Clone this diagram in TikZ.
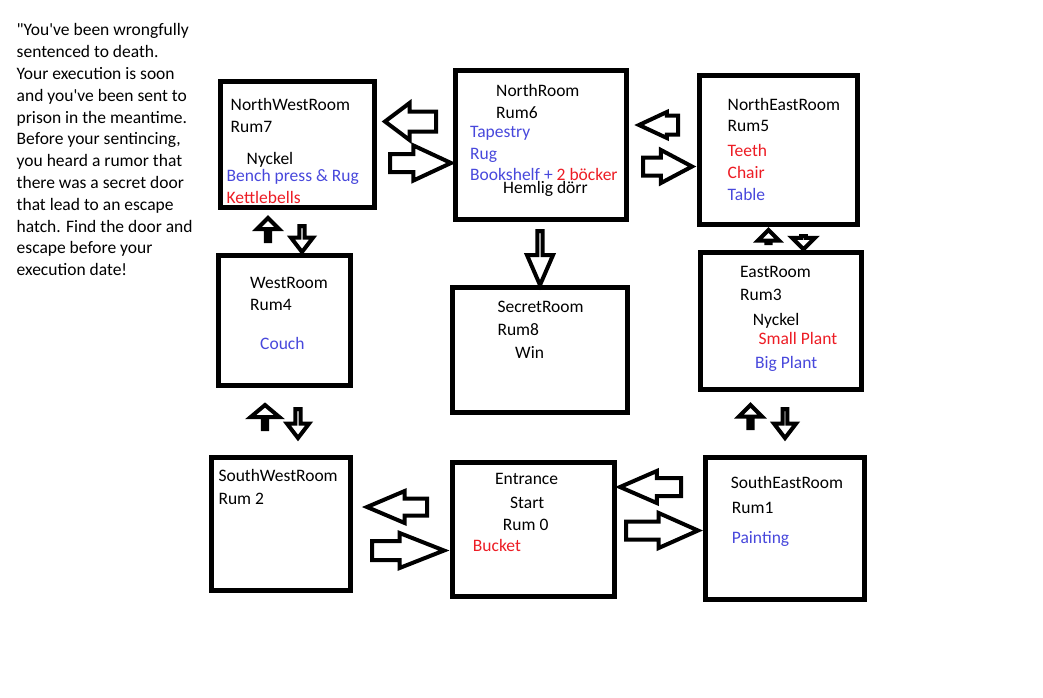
\documentclass[tikz,border=0pt]{standalone}
\usepackage{fontspec}
\setmainfont{Carlito}
\usetikzlibrary{shapes.arrows}

\definecolor{itemblue}{RGB}{72,72,220}
\definecolor{itemred}{RGB}{237,28,36}

\begin{document}
\begin{tikzpicture}[
  x=1pt,y=-1pt,
  every node/.style={font=\fontsize{17.5}{21.8}\selectfont},
  room/.style={draw,line width=5pt,inner sep=0pt},
  lbl/.style={anchor=base west,inner sep=0pt},
  blueitem/.style={lbl,text=itemblue},
  reditem/.style={lbl,text=itemred},
  blockarrow/.style n args={4}{single arrow,draw,line width=4pt,inner sep=0pt,
    inner ysep={#3/2},minimum height=#1,minimum width=#2,anchor=tail,
    single arrow head extend={(#2-#3)/2},single arrow tip angle=#4}
]
  \useasboundingbox[fill=white] (0,0) rectangle (1043,697);

  % story text
  \node[anchor=north west,inner sep=0pt,align=left] (story) at (16.5,23.5)
    {\textquotedbl You\textquotesingle ve been wrongfully\\ sentenced to death.\\
     Your execution is soon\\ and you\textquotesingle ve been sent to\\
     prison in the meantime.\\ Before your sentincing,\\
     you heard a rumor that\\ there was a secret door\\
     that lead to an escape\\ hatch. Find the door and\\
     escape before your\\ execution date!};

  % rooms
  \node[room,minimum width=154,minimum height=126] (nw) at (297.5,144.5) {};
  \node[room,minimum width=171,minimum height=149] (north) at (541,145) {};
  \node[room,minimum width=158,minimum height=149] (ne) at (778.5,150) {};
  \node[room,minimum width=132,minimum height=130] (west) at (284.5,320.5) {};
  \node[room,minimum width=175,minimum height=125] (secret) at (540,350) {};
  \node[room,minimum width=161,minimum height=137] (east) at (781,321) {};
  \node[room,minimum width=139,minimum height=133] (sw) at (281,524) {};
  \node[room,minimum width=162,minimum height=134] (entrance) at (533.5,529.5) {};
  \node[room,minimum width=159,minimum height=142] (se) at (785,528.5) {};

  % room texts
  \node[lbl] (nwName) at (230.5,110.7) {NorthWestRoom};
  \node[lbl] (nwRum) at (230.5,132.7) {Rum7};
  \node[lbl] (nwKey) at (246.5,164.3) {Nyckel};
  \node[blueitem] (nwBench) at (226.5,181.7) {Bench press \& Rug};
  \node[reditem] (nwKettle) at (226.5,203.3) {Kettlebells};

  \node[lbl] (nName) at (496,96.7) {NorthRoom};
  \node[lbl] (nRum) at (496,118.3) {Rum6};
  \node[blueitem] (nTapestry) at (470,137.3) {Tapestry};
  \node[blueitem] (nRug) at (470,159.3) {Rug};
  \node[blueitem] (nShelf) at (470,180.7) {Bookshelf + \textcolor{itemred}{2 böcker}};
  \node[lbl] (nDoor) at (503,193.3) {Hemlig dörr};

  \node[lbl] (neName) at (727.5,110) {NorthEastRoom};
  \node[lbl] (neRum) at (727.5,131.7) {Rum5};
  \node[reditem] (neTeeth) at (727.5,156) {Teeth};
  \node[reditem] (neChair) at (727.5,178.3) {Chair};
  \node[blueitem] (neTable) at (727.5,200) {Table};

  \node[lbl] (wName) at (250,288.3) {WestRoom};
  \node[lbl] (wRum) at (250,310.7) {Rum4};
  \node[blueitem] (wCouch) at (260,349.3) {Couch};

  \node[lbl] (sName) at (497.3,312.7) {SecretRoom};
  \node[lbl] (sRum) at (497.3,335) {Rum8};
  \node[lbl] (sWin) at (515,358.3) {Win};

  \node[lbl] (eName) at (740,277.7) {EastRoom};
  \node[lbl] (eRum) at (740,300) {Rum3};
  \node[lbl] (eKey) at (752.7,325) {Nyckel};
  \node[reditem] (eSmall) at (758.3,344.3) {Small Plant};
  \node[blueitem] (eBig) at (755,368.7) {Big Plant};

  \node[lbl] (swName) at (218.3,481.7) {SouthWestRoom};
  \node[lbl] (swRum) at (218.3,504) {Rum 2};

  \node[lbl] (enName) at (495,484) {Entrance};
  \node[lbl] (enStart) at (510,508.3) {Start};
  \node[lbl] (enRum) at (502.7,530) {Rum 0};
  \node[reditem] (enBucket) at (472.7,551.7) {Bucket};

  \node[lbl] (seName) at (730.7,488.3) {SouthEastRoom};
  \node[lbl] (seRum) at (731.7,513.3) {Rum1};
  \node[blueitem] (sePainting) at (731.7,543.3) {Painting};

  % doors between rooms (placed by their tails)
  \node[blockarrow={51}{33}{16}{74},shape border rotate=180] (nwFromN) at (438,121.5) {};
  \node[blockarrow={61}{31}{14}{50}] (nwToN) at (388,163) {};
  \node[blockarrow={39}{22}{15}{50},shape border rotate=180] (nFromNe) at (680,125) {};
  \node[blockarrow={49}{29}{14}{56}] (nToNe) at (641,166.5) {};
  \node[blockarrow={60}{28}{13}{46},shape border rotate=180] (swFromEn) at (429,507) {};
  \node[blockarrow={72}{31}{15}{43}] (swToEn) at (370,550.5) {};
  \node[blockarrow={61}{28}{14}{47},shape border rotate=180] (enFromSe) at (683,487) {};
  \node[blockarrow={72}{31}{14}{48}] (enToSe) at (624,530.5) {};

  \node[blockarrow={23}{22}{6}{90},shape border rotate=90] (wToNw) at (268,243) {};
  \node[blockarrow={26}{22}{9}{75},shape border rotate=270] (nwToW) at (302,224) {};
  \node[blockarrow={54}{26}{11}{47},shape border rotate=270] (nToSecret) at (540,229) {};
  \node[blockarrow={13}{21}{6}{90},shape border rotate=90] (eToNe) at (768.5,245) {};
  \node[blockarrow={12}{23}{7}{90},shape border rotate=270] (neToE) at (803.5,234) {};
  \node[blockarrow={24}{29}{6}{100},shape border rotate=90] (swToW) at (265,431) {};
  \node[blockarrow={29}{22}{9}{75},shape border rotate=270] (wToSw) at (298,407) {};
  \node[blockarrow={23}{23}{6}{90},shape border rotate=90] (seToE) at (750.5,430) {};
  \node[blockarrow={29}{22}{8}{75},shape border rotate=270] (eToSe) at (785,407) {};
\end{tikzpicture}
\end{document}
